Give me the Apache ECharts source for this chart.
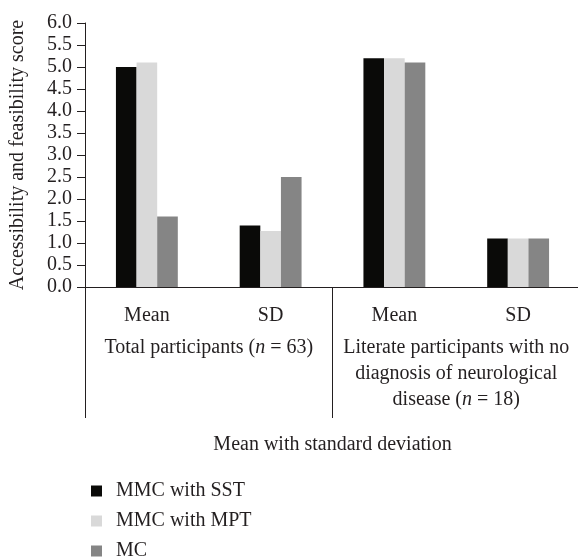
<!DOCTYPE html>
<html><head><meta charset="utf-8">
<script src="https://cdn.jsdelivr.net/npm/echarts@6/dist/echarts.min.js"></script>
<style>html,body{margin:0;padding:0;background:#fff}#c{width:578px;height:558px}</style>
</head><body><div id="c"></div>
<script>
const categories = ["Mean", "SD", "Mean", "SD"];
const groups = ["Total participants ({i|n} = 63)", "Literate participants with no\ndiagnosis of neurological\ndisease ({i|n} = 18)"];
const seriesNames = ["MMC with SST", "MMC with MPT", "MC"];
const sst = [5.0, 1.4, 5.2, 1.1];
const mpt = [5.1, 1.27, 5.2, 1.1];
const mc = [1.6, 2.5, 5.1, 1.1];
const yTicks = { min: 0, max: 6, interval: 0.5 };
const colors = ["#0a0a08", "#d9d9d9", "#858585"];
const FONT = "Liberation Serif";
const FS = 20;
const TC = '#231f20';

const chart = echarts.init(document.getElementById('c'));
const mk = (name, data, i) => ({ name, type: 'bar', data, itemStyle: { color: colors[i] }, barGap: '0%', barCategoryGap: '50%', xAxisIndex: 0 });
chart.setOption({
  animation: false,
  textStyle: { fontFamily: FONT, color: TC },
  legend: { orient: 'vertical', left: 86, top: 476, height: 120, itemWidth: 11, itemHeight: 11, itemGap: 10, icon: 'rect', textStyle: { fontFamily: FONT, fontSize: FS, color: TC, padding: [0, 0, 0, 9] }, data: seriesNames },
  grid: { left: 85, right: -2, top: 23, bottom: 271, outerBoundsMode: 'none', containLabel: false },
  xAxis: [
    { type: 'category', data: categories, axisLine: { lineStyle: { color: TC, width: 1 } }, axisTick: { show: false }, axisLabel: { interval: 0, fontFamily: FONT, fontSize: FS, color: TC, margin: 19 } },
    { type: 'category', position: 'bottom', data: groups, axisLine: { show: false },
      axisTick: { show: true, interval: 0, length: 131, lineStyle: { color: TC } },
      axisLabel: { interval: 0, hideOverlap: false, fontFamily: FONT, fontSize: FS, color: TC, margin: 48, lineHeight: 26, rich: { i: { fontStyle: 'italic', fontFamily: FONT, fontSize: FS, color: TC } } },
      name: 'Mean with standard deviation', nameLocation: 'middle', nameGap: 148, nameTextStyle: { fontFamily: FONT, fontSize: FS, color: TC } }
  ],
  yAxis: { type: 'value', min: yTicks.min, max: yTicks.max, interval: yTicks.interval, name: 'Accessibility and feasibility score', nameLocation: 'middle', nameGap: 57, nameTextStyle: { fontFamily: FONT, fontSize: FS, color: TC },
    axisLine: { show: true, lineStyle: { color: TC } }, axisTick: { show: true, length: 8, lineStyle: { color: TC } }, splitLine: { show: false },
    axisLabel: { fontFamily: FONT, fontSize: FS, color: TC, margin: 13, formatter: v => v.toFixed(1) } },
  series: [mk(seriesNames[0], sst, 0), mk(seriesNames[1], mpt, 1), mk(seriesNames[2], mc, 2)]
});
</script></body></html>
